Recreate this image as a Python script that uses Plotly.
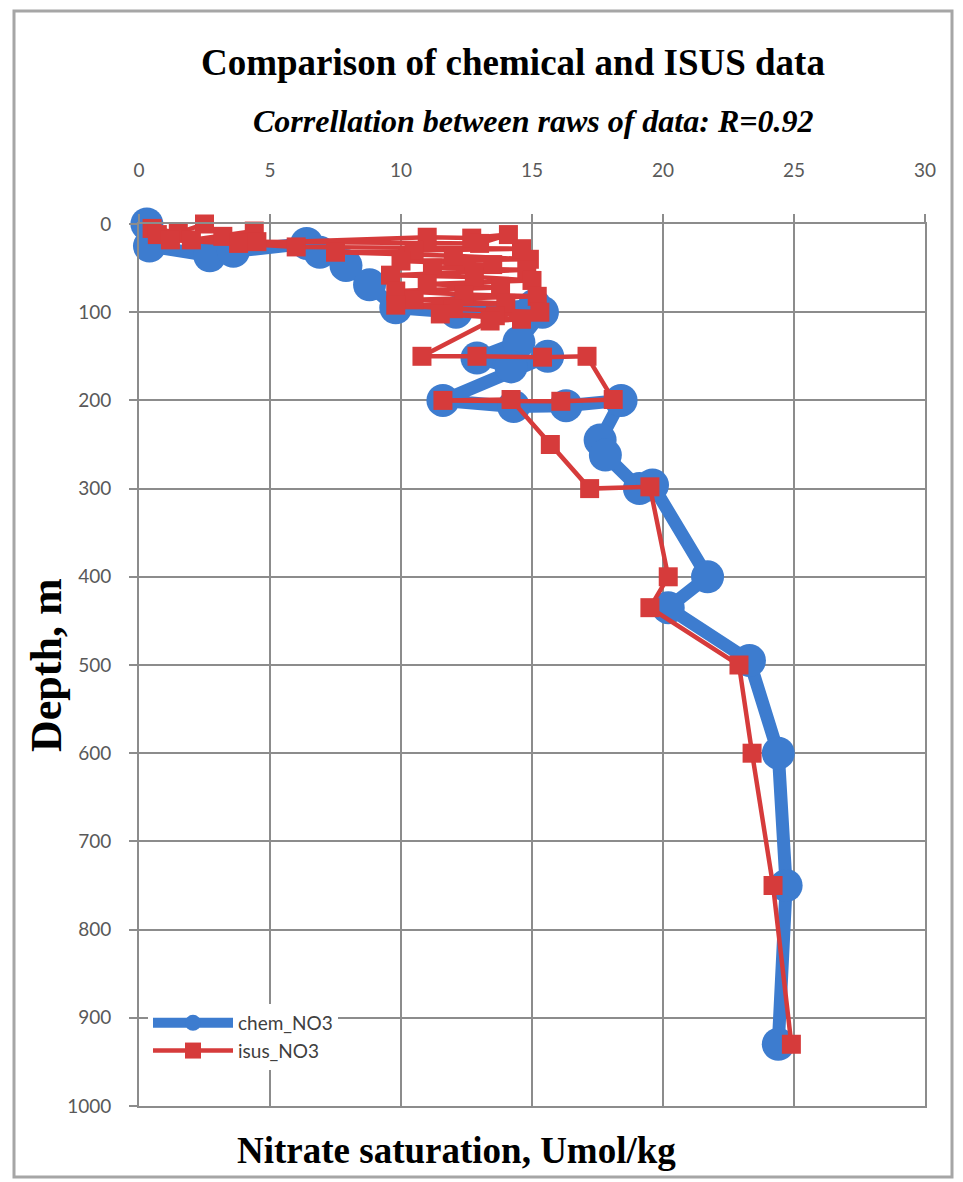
import plotly.graph_objects as go

# ---------------- data ----------------
chem_no3 = [0.3, 0.4, 2.7, 3.6, 6.4, 6.9, 7.9, 8.8, 9.8, 12.1, 15.1, 15.4, 14.5, 12.9,
            14.2, 15.6, 11.6, 14.3, 16.3, 18.4, 17.6, 17.8, 19.1, 19.6, 21.7, 20.2,
            23.3, 24.4, 24.7, 24.4]
chem_depth = [0, 25, 36, 31, 22, 32, 47, 69, 95, 100, 92, 100, 134, 152,
              162, 150, 200, 207, 206, 200, 245, 262, 300, 296, 400, 435,
              495, 600, 750, 930]

isus_no3 = [0.5, 1.5, 2.5, 3.2, 4.4, 2.0, 0.7, 3.8, 11.0, 12.7, 14.1, 13.0, 4.5, 1.2,
            6.0, 14.6, 10.5, 7.5, 12.0, 14.9, 10.0, 13.5, 11.2, 14.8, 9.6, 12.8, 15.0,
            11.0, 13.8, 9.8, 12.4, 15.2, 10.5, 14.0, 9.8, 12.0, 15.3, 13.6, 11.5, 14.6,
            13.4, 10.8, 12.9, 15.4, 17.1, 18.1, 16.1, 11.6, 14.2, 15.7, 17.2, 19.5,
            20.2, 19.5, 22.9, 23.4, 24.2, 24.9]
isus_depth = [5, 10, 0, 14, 8, 18, 12, 22, 15, 16, 12, 22, 20, 18,
              26, 28, 30, 32, 36, 40, 42, 46, 50, 52, 58, 60, 64,
              68, 72, 76, 80, 82, 86, 90, 92, 96, 100, 104, 102, 108,
              110, 150, 150, 151, 150, 199, 201, 200, 199, 250, 300, 298,
              400, 435, 500, 600, 750, 930]

x_ticks = [0, 5, 10, 15, 20, 25, 30]
y_ticks = [0, 100, 200, 300, 400, 500, 600, 700, 800, 900, 1000]

series_names = ["chem_NO3", "isus_NO3"]
title_text = "Comparison of chemical and ISUS data"
subtitle_text = "Correllation between raws of data: R=0.92"
x_title = "Nitrate saturation, Umol/kg"
y_title = "Depth, m"

# ---------------- figure ----------------
W, H = 963, 1182
L, R, T, B = 139, 38, 224, 76
pw, ph = W - L - R, H - T - B


def px_x(p):
    return (p - L) / pw


def px_y(p):
    return (H - B - p) / ph


BLUE = "#3D7CCF"
RED = "#D63B3B"
GRID = "#8C8C8C"
TICK = "#595959"
SERIF = "Liberation Serif"
SANS = "Lato"

fig = go.Figure()
fig.add_trace(go.Scatter(
    x=chem_no3, y=chem_depth, name=series_names[0], mode="lines+markers",
    line=dict(color=BLUE, width=13),
    marker=dict(symbol="circle", size=33, color=BLUE),
    cliponaxis=False,
))
fig.add_trace(go.Scatter(
    x=isus_no3, y=isus_depth, name=series_names[1], mode="lines+markers",
    line=dict(color=RED, width=4.5),
    marker=dict(symbol="square", size=19, color=RED),
    cliponaxis=False,
))


def ann(text, xp, yp, size, angle=0):
    return dict(text=text, x=px_x(xp), y=px_y(yp), xref="paper", yref="paper",
                xanchor="center", yanchor="middle", showarrow=False, textangle=angle,
                font=dict(family=SERIF, size=size, color="black"))


fig.update_layout(
    width=W, height=H,
    margin=dict(l=L, r=R, t=T, b=B, pad=0),
    paper_bgcolor="white", plot_bgcolor="white",
    showlegend=True,
    legend=dict(
        x=px_x(148), y=px_y(1004), xanchor="left", yanchor="top",
        bgcolor="white", borderwidth=0,
        font=dict(family=SANS, size=19, color="#404040"),
        itemwidth=80, tracegroupgap=4,
    ),
    xaxis=dict(
        side="top", range=[0, 30], tickvals=x_ticks,
        ticks="outside", ticklen=8, tickcolor=GRID, tickwidth=1.5,
        ticklabelstandoff=30,
        showgrid=True, gridcolor=GRID, gridwidth=1.8,
        showline=True, linecolor=GRID, linewidth=1.8, mirror=True,
        zeroline=False,
        tickfont=dict(family=SANS, size=19, color=TICK),
    ),
    yaxis=dict(
        range=[1000, 0], tickvals=y_ticks,
        ticks="outside", ticklen=8, tickcolor=GRID, tickwidth=1.5,
        ticklabelstandoff=14,
        showgrid=True, gridcolor=GRID, gridwidth=1.8,
        showline=True, linecolor=GRID, linewidth=1.8, mirror=True,
        zeroline=False,
        tickfont=dict(family=SANS, size=19, color=TICK),
    ),
    shapes=[dict(
        type="rect", xref="paper", yref="paper",
        x0=px_x(14), x1=px_x(952), y0=px_y(1177), y1=px_y(11),
        line=dict(color="#A6A6A6", width=3), fillcolor="rgba(0,0,0,0)", layer="below",
    )],
    annotations=[
        ann("<b>" + title_text + "</b>", 513, 62, 37),
        ann("<b><i>" + subtitle_text + "</i></b>", 533, 121, 32),
        ann("<b>" + x_title + "</b>", 456, 1150, 37),
        ann("<b>" + y_title + "</b>", 46, 665, 44, -90),
    ],
)

fig.write_html("out.html")
